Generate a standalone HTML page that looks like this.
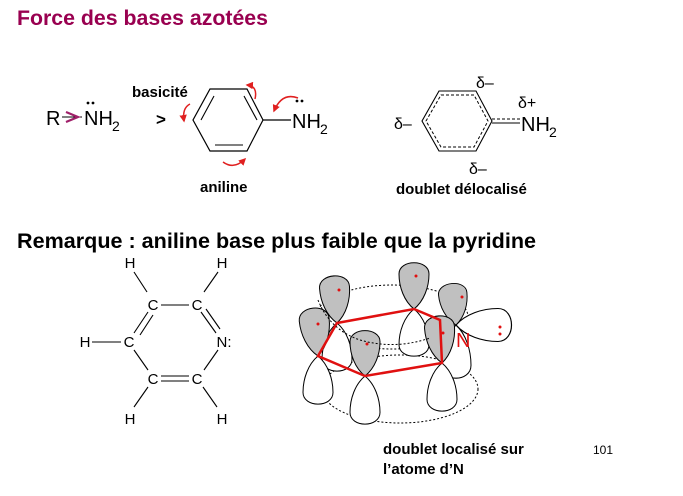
<!DOCTYPE html>
<html><head><meta charset="utf-8"><style>
html,body{margin:0;padding:0;background:#fff;}
svg{display:block;}
text{font-family:"Liberation Sans",Arial,sans-serif;}
.b{font-weight:bold;}
</style></head><body>
<svg width="683" height="496" viewBox="0 0 683 496" xmlns="http://www.w3.org/2000/svg">
<defs>
<marker id="ar" viewBox="0 0 10 10" refX="8" refY="5" markerWidth="5" markerHeight="5" orient="auto"><path d="M0,0 L10,5 L0,10 z" fill="#e02020"/></marker>
<path id="lobe" d="M0,0 C-10,-8 -15,-22 -15,-35 C-15,-50 15,-50 15,-35 C15,-22 10,-8 0,0 Z"/>
</defs>
<text x="17" y="25" class="b" font-size="21" fill="#990050" textLength="251" lengthAdjust="spacingAndGlyphs">Force des bases azotées</text>

<!-- R-NH2 -->
<text x="46" y="125" font-size="20">R</text>
<line x1="62" y1="117" x2="82" y2="117" stroke="#000" stroke-width="1"/>
<path d="M66,112 L78,117 L66,122" fill="none" stroke="#a0206a" stroke-width="2.2"/>
<text x="84" y="125" font-size="20">NH</text><text x="112" y="131" font-size="14">2</text>
<circle cx="88" cy="103" r="1.4"/><circle cx="93" cy="103" r="1.4"/>
<text x="132" y="97" class="b" font-size="15">basicité</text>
<text x="156" y="125" class="b" font-size="17">&gt;</text>

<!-- aniline ring -->
<polygon points="210,89 247,89 263,120 247,151 210,151 193,120" fill="none" stroke="#000" stroke-width="1.2"/>
<line x1="214" y1="96" x2="201" y2="120" stroke="#000" stroke-width="1.1"/>
<line x1="244" y1="96" x2="257" y2="120" stroke="#000" stroke-width="1.1"/>
<line x1="215" y1="145" x2="243" y2="145" stroke="#000" stroke-width="1.1"/>
<line x1="263" y1="120" x2="291" y2="120" stroke="#000" stroke-width="1.2"/>
<text x="292" y="128" font-size="20">NH</text><text x="320" y="134" font-size="14">2</text>
<circle cx="297" cy="101" r="1.4"/><circle cx="302" cy="101" r="1.4"/>
<path d="M190,104 Q182,108 184,121" fill="none" stroke="#e02020" stroke-width="1.5" marker-end="url(#ar)"/>
<path d="M255,99 Q258,86 247,85" fill="none" stroke="#e02020" stroke-width="1.5" marker-end="url(#ar)"/>
<path d="M298,98 Q282,92 274,111" fill="none" stroke="#e02020" stroke-width="1.5" marker-end="url(#ar)"/>
<path d="M223,162 Q234,170 245,159" fill="none" stroke="#e02020" stroke-width="1.5" marker-end="url(#ar)"/>
<text x="200" y="192" class="b" font-size="15">aniline</text>

<!-- delocalized ring -->
<polygon points="439,91 476,91 492,121 476,151 439,151 422,121" fill="none" stroke="#000" stroke-width="1.1"/>
<polygon points="441,95 474,95 488,121 474,147 441,147 426,121" fill="none" stroke="#000" stroke-width="1" stroke-dasharray="3,2"/>
<line x1="492" y1="119" x2="520" y2="119" stroke="#000" stroke-width="1" stroke-dasharray="3,2"/>
<line x1="492" y1="123" x2="520" y2="123" stroke="#000" stroke-width="1.1"/>
<text x="521" y="131" font-size="20">NH</text><text x="549" y="137" font-size="14">2</text>
<text x="476" y="88" font-size="16">δ–</text>
<text x="518" y="108" font-size="16">δ+</text>
<text x="394" y="129" font-size="16">δ–</text>
<text x="469" y="174" font-size="16">δ–</text>
<text x="396" y="194" class="b" font-size="15">doublet délocalisé</text>

<text x="17" y="248" class="b" font-size="21" textLength="519" lengthAdjust="spacingAndGlyphs">Remarque  : aniline base plus faible que la pyridine</text>

<!-- pyridine -->
<g font-size="15" text-anchor="middle">
<text x="130" y="268">H</text><text x="222" y="268">H</text>
<text x="153" y="310">C</text><text x="197" y="310">C</text>
<text x="85" y="347">H</text><text x="129" y="347">C</text>
<text x="224" y="347">N:</text>
<text x="153" y="384">C</text><text x="197" y="384">C</text>
<text x="130" y="424">H</text><text x="222" y="424">H</text>
</g>
<g stroke="#000" stroke-width="1.1">
<line x1="134" y1="272" x2="147" y2="292"/><line x1="218" y1="272" x2="204" y2="292"/>
<line x1="161" y1="305" x2="189" y2="305"/>
<line x1="201" y1="312" x2="216" y2="333"/><line x1="206" y1="309" x2="220" y2="329"/>
<line x1="148" y1="312" x2="134" y2="333"/><line x1="153" y1="315" x2="140" y2="335"/>
<line x1="92" y1="342" x2="121" y2="342"/>
<line x1="134" y1="350" x2="148" y2="370"/>
<line x1="218" y1="350" x2="204" y2="370"/>
<line x1="161" y1="376" x2="189" y2="376"/><line x1="161" y1="381" x2="189" y2="381"/>
<line x1="148" y1="387" x2="134" y2="407"/><line x1="203" y1="387" x2="217" y2="407"/>
</g>

<!-- orbitals -->
<g stroke="#000" stroke-width="1">
<ellipse cx="392" cy="317" rx="76" ry="32" fill="none" stroke-dasharray="2,2"/>
<ellipse cx="400" cy="389" rx="78" ry="34" fill="none" stroke-dasharray="2,2"/>
<g fill="#fff">
<use href="#lobe" transform="translate(337,323) rotate(180) scale(1,1.04)"/>
<use href="#lobe" transform="translate(414,309) rotate(180) scale(1,1.02)"/>
<use href="#lobe" transform="translate(456,325) rotate(180) scale(1,1.15)"/>
<use href="#lobe" transform="translate(456,325) rotate(90) scale(1.1,1.2)"/>
<use href="#lobe" transform="translate(318,356) rotate(180) scale(1,1.04)"/>
<use href="#lobe" transform="translate(442,363) rotate(180) scale(1,1.04)"/>
<use href="#lobe" transform="translate(365,376) rotate(180) scale(1,1.04)"/>
</g>
<g fill="#c0c0c0">
<use href="#lobe" transform="translate(337,323) rotate(-4) scale(1,1.02)"/>
<use href="#lobe" transform="translate(414,309)"/>
<use href="#lobe" transform="translate(456,325) rotate(-6) scale(0.95,0.9)"/>
<use href="#lobe" transform="translate(318,356) rotate(-6) scale(1,1.04)"/>
<use href="#lobe" transform="translate(442,363) rotate(-4) scale(1,1.02)"/>
<use href="#lobe" transform="translate(365,376) scale(1,0.98)"/>
</g>
</g>
<polygon points="337,323 414,309 440,320 442,363 365,376 318,356" fill="none" stroke="#e01010" stroke-width="2.5"/>
<path d="M318,300 Q330,330 360,340 Q395,350 430,338" fill="none" stroke="#000" stroke-width="1" stroke-dasharray="2,2"/>
<g fill="#e01010">
<circle cx="339" cy="290" r="1.5"/><circle cx="416" cy="276" r="1.5"/><circle cx="462" cy="297" r="1.5"/>
<circle cx="318" cy="324" r="1.5"/><circle cx="443" cy="333" r="1.5"/><circle cx="367" cy="344" r="1.5"/>
<circle cx="500" cy="327" r="1.5"/><circle cx="500" cy="334" r="1.5"/>
</g>
<text x="456" y="347" font-size="20" fill="#e01010">N</text>

<text x="383" y="454" class="b" font-size="15">doublet localisé sur</text>
<text x="383" y="474" class="b" font-size="15">l’atome d’N</text>
<text x="593" y="454" font-size="12">101</text>
</svg>
</body></html>
